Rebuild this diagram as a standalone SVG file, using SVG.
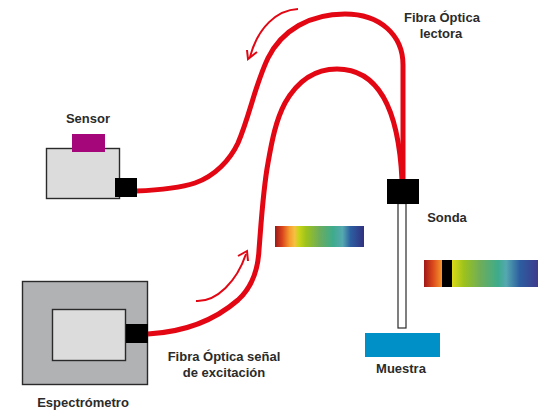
<svg xmlns="http://www.w3.org/2000/svg" width="547" height="412" viewBox="0 0 547 412">
<style>
text{font-family:"Liberation Sans",Arial,sans-serif;font-size:13px;font-weight:bold;fill:#2b2b2b;text-anchor:middle}
.fiber{fill:none;stroke:#e30613;stroke-width:5}
.thin{fill:none;stroke:#e30613;stroke-width:2}
.box{stroke:#2a2a2a;stroke-width:1.4}
</style>
<defs>
<linearGradient id="sp1" x1="0" x2="1" y1="0" y2="0">
<stop offset="0" stop-color="#9c1a1a"/><stop offset=".08" stop-color="#d9431c"/><stop offset=".16" stop-color="#f59a2e"/><stop offset=".22" stop-color="#f5c040"/><stop offset=".27" stop-color="#c8d418"/><stop offset=".35" stop-color="#9cc21c"/><stop offset=".5" stop-color="#6cad5c"/><stop offset=".65" stop-color="#3eab8c"/><stop offset=".76" stop-color="#55a8b0"/><stop offset=".85" stop-color="#2c5ea0"/><stop offset="1" stop-color="#32307f"/>
</linearGradient>
<linearGradient id="sp2" x1="0" x2="1" y1="0" y2="0">
<stop offset="0" stop-color="#a01818"/><stop offset=".08" stop-color="#dc4a1c"/><stop offset=".16" stop-color="#f59a2e"/><stop offset=".25" stop-color="#d8d818"/><stop offset=".35" stop-color="#9cc21c"/><stop offset=".5" stop-color="#6cad5c"/><stop offset=".65" stop-color="#3eab8c"/><stop offset=".72" stop-color="#55a8b0"/><stop offset=".84" stop-color="#2c5ea0"/><stop offset="1" stop-color="#3f3a8c"/>
</linearGradient>
</defs>
<g id="connectors">
<path class="fiber" d="M136 191C160 190 180 188 195 183C215 176 230 160 238 143C250 115 255 85 268 58C282 30 310 14 345 14C380 14 403 35 403 65L403 180"/>
<path class="fiber" d="M148 334C185 332 215 320 238 300C252 287 258 270 259 250C261 225 263 190 268 163C272 140 276 120 285 103C298 80 315 69 337 69C370 69 398 95 402 180"/>
<path class="thin" d="M298 9C277 10 258 27 250 57"/>
<path class="thin" d="M247 50L248 59L257 52"/>
<path class="thin" d="M196 301C217 302 237 281 246 254"/>
<path class="thin" d="M238 256L247 251L248 261"/>
</g>
<g id="sensor">
<rect class="box" x="46.500" y="148.500" width="73" height="50" fill="#dcdcdc"/>
<rect x="72" y="134" width="33" height="18" fill="#a5077b"/>
<rect x="115" y="178" width="22" height="19" fill="#000"/>
<text x="88" y="123">Sensor</text>
</g>
<g id="espectrometro">
<rect class="box" x="22.500" y="281.500" width="125" height="103" fill="#b1b2b4"/>
<rect class="box" x="52.500" y="309.500" width="73" height="51" fill="#dcdcdc"/>
<rect x="126" y="324" width="22" height="19" fill="#000"/>
<text x="83" y="407">Espectrómetro</text>
</g>
<g id="sonda">
<rect x="398" y="203.500" width="8" height="124.500" fill="#fff" stroke="#2a2a2a" stroke-width="1.2"/>
<rect x="387" y="179" width="32" height="25" fill="#000"/>
<text x="447" y="222">Sonda</text>
</g>
<g id="muestra">
<rect x="365" y="333" width="75" height="24" fill="#0090c8"/>
<text x="401" y="373">Muestra</text>
</g>
<g id="espectro-1">
<rect x="275" y="226" width="89" height="21" fill="url(#sp1)"/>
</g>
<g id="espectro-2">
<rect x="424" y="260" width="114" height="27" fill="url(#sp2)"/>
<rect x="442" y="260" width="10" height="27" fill="#000"/>
</g>
<g id="label-lectora">
<text x="442" y="22">Fibra Óptica</text>
<text x="441" y="38">lectora</text>
</g>
<g id="label-excitacion">
<text x="224" y="361">Fibra Óptica señal</text>
<text x="224" y="377">de excitación</text>
</g>
</svg>
